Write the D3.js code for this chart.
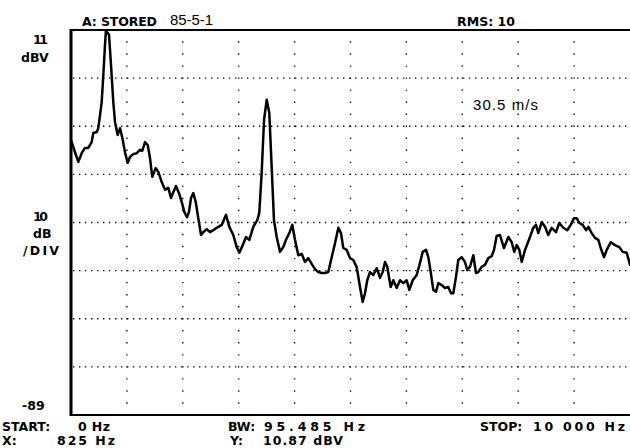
<!DOCTYPE html>
<html>
<head>
<meta charset="utf-8">
<script src="https://cdn.jsdelivr.net/npm/d3@7/dist/d3.min.js"></script>
<style>
  html, body { margin: 0; padding: 0; background: #fff; }
  svg { display: block; }
  .hp { font-family: "DejaVu Sans", sans-serif; font-weight: bold; font-size: 12.5px; fill: #000; }
  .note { font-family: "Liberation Sans", Arial, sans-serif; font-size: 15px; fill: #000; }
</style>
</head>
<body>
<svg id="chart" width="630" height="448"></svg>
<script>
// Stored spectrum trace: frequency (Hz) and level (dBV)
const freqHz = [0, 72, 131, 191, 250, 309, 370, 399, 460, 488, 519, 549, 578, 608, 625, 680, 716, 757, 787, 835,
  877, 918, 966, 1014, 1055, 1114, 1175, 1234, 1275, 1324, 1372, 1413, 1454, 1515, 1562, 1623, 1682, 1741, 1789, 1830,
  1878, 1932, 1980, 2027, 2075, 2111, 2147, 2188, 2231, 2277, 2326, 2367, 2428, 2487, 2546, 2606, 2696, 2773, 2832, 2903,
  2964, 3011, 3072, 3131, 3190, 3261, 3333, 3368, 3411, 3453, 3501, 3547, 3590, 3631, 3680, 3739, 3798, 3846, 3905, 3959,
  4007, 4066, 4127, 4186, 4245, 4306, 4365, 4424, 4485, 4544, 4603, 4664, 4723, 4782, 4830, 4871, 4932, 4991, 5050, 5111,
  5170, 5218, 5259, 5300, 5349, 5408, 5469, 5528, 5576, 5617, 5658, 5719, 5766, 5826, 5885, 5945, 6005, 6052, 6113, 6184,
  6243, 6292, 6351, 6392, 6435, 6481, 6530, 6571, 6631, 6690, 6749, 6798, 6839, 6887, 6928, 6989, 7048, 7089, 7138, 7197,
  7245, 7286, 7347, 7406, 7465, 7526, 7567, 7615, 7674, 7746, 7823, 7884, 7930, 7973, 8020, 8063, 8122, 8211, 8270, 8318,
  8360, 8420, 8479, 8538, 8599, 8676, 8735, 8807, 8878, 8939, 8998, 9046, 9093, 9154, 9213, 9254, 9315, 9374, 9433, 9476,
  9535, 9584, 9655, 9732, 9808, 9869, 9941, 10000];
const levelDbv = [-11.9, -14.4, -16.4, -14.6, -13.5, -13.5, -12.3, -10.4, -10.2, -9.4, -6.7, -4.0, 1.6, 7.9, 10.87, 10.0, 3.7, -4.0, -8.1, -10.8,
  -9.4, -11.4, -14.4, -16.6, -15.4, -14.8, -14.6, -13.9, -14.1, -12.3, -12.9, -15.6, -19.5, -17.7, -18.5, -20.6, -22.2, -21.8, -23.9, -22.7,
  -21.4, -22.9, -24.7, -26.8, -27.9, -26.8, -23.9, -22.9, -24.7, -28.1, -31.6, -31.0, -30.4, -31.0, -30.6, -30.1, -29.5, -27.4, -29.9, -31.6,
  -34.1, -35.3, -33.7, -32.0, -32.6, -29.9, -28.5, -27.0, -18.7, -7.7, -3.5, -6.2, -17.5, -28.5, -32.0, -35.1, -34.1, -32.6, -31.2, -29.5,
  -32.6, -35.8, -35.5, -37.2, -36.4, -37.6, -38.7, -39.3, -39.5, -39.5, -39.3, -36.2, -33.3, -30.1, -31.2, -34.3, -34.7, -36.4, -36.8, -38.3,
  -42.4, -45.5, -43.7, -41.0, -39.3, -39.9, -38.5, -40.5, -39.3, -37.2, -38.2, -42.4, -41.0, -42.6, -41.0, -41.6, -41.0, -43.0, -41.0, -39.9,
  -37.4, -35.1, -34.7, -36.2, -39.3, -43.0, -43.4, -41.6, -42.0, -42.6, -42.4, -43.7, -43.7, -40.3, -36.8, -36.2, -37.2, -38.9, -38.2, -35.8,
  -39.5, -39.3, -38.2, -37.8, -36.4, -36.0, -34.7, -31.8, -31.6, -34.3, -32.0, -33.1, -35.1, -33.7, -34.7, -37.2, -34.7, -32.0, -30.1, -29.5,
  -31.2, -28.9, -29.9, -31.6, -30.1, -31.0, -29.1, -30.1, -30.6, -29.5, -28.1, -28.1, -29.1, -29.5, -30.6, -29.9, -31.2, -32.2, -32.6, -34.3,
  -36.2, -34.7, -33.1, -33.7, -34.1, -35.1, -35.3, -37.8];

// Display settings: reference level, scale and span
const refLevelDbv = 11;
const dbPerDiv = 10;
const yDivisions = 8;
const startHz = 0;
const stopHz = 10000;
const xDivisions = 10;

// Annotation text
const headerLeft = ["A: STORED", "85-5-1"];
const headerRight = "RMS: 10";
const topLabel = ["11", "dBV"];
const scaleLabel = ["10", "dB", "/DIV"];
const bottomLabel = "-89";
const footerRow1 = [["START:", "0 Hz"], ["BW:", "95.485 Hz"], ["STOP:", "10 000 Hz"]];
const footerRow2 = [["X:", "825 Hz"], ["Y:", "10.87 dBV"]];
const speedNote = "30.5 m/s";

(function draw() {
  const svg = d3.select("#chart");
  const plotL = 71, plotR = 630, plotT = 30, plotB = 415;

  const x = d3.scaleLinear().domain([startHz, stopHz]).range([plotL, plotR]);
  const y = d3.scaleLinear()
    .domain([refLevelDbv - dbPerDiv * yDivisions, refLevelDbv])
    .range([plotB, plotT]);

  const xGrid = d3.range(1, xDivisions).map(i => startHz + i * (stopHz - startHz) / xDivisions);
  const yGrid = d3.range(1, yDivisions).map(i => refLevelDbv - i * dbPerDiv);
  const divH = (plotB - plotT) / yDivisions;

  // dotted graticule
  svg.append("g").selectAll("line").data(yGrid).join("line")
    .attr("x1", plotL + 2).attr("x2", plotR)
    .attr("y1", d => y(d)).attr("y2", d => y(d))
    .attr("stroke", "#111").attr("stroke-width", 1.4)
    .attr("stroke-dasharray", "1.4,4.6");

  svg.append("g").selectAll("line").data(xGrid).join("line")
    .attr("x1", d => x(d)).attr("x2", d => x(d))
    .attr("y1", plotT).attr("y2", plotB)
    .attr("stroke", "#111").attr("stroke-width", 1.4)
    .attr("stroke-dasharray", `1.4,${divH / 4 - 1.4}`)
    .attr("stroke-dashoffset", 0.7);

  // frame
  const frame = svg.append("g").attr("stroke", "#000").attr("fill", "none");
  frame.append("line").attr("x1", plotL).attr("x2", plotL).attr("y1", plotT - 1).attr("y2", plotB + 1).attr("stroke-width", 3);
  frame.append("line").attr("x1", plotL).attr("x2", plotR).attr("y1", plotT).attr("y2", plotT).attr("stroke-width", 1.8);
  frame.append("line").attr("x1", plotL).attr("x2", plotR).attr("y1", plotB).attr("y2", plotB).attr("stroke-width", 2);

  // trace
  const pts = freqHz.map((f, i) => [f, levelDbv[i]]);
  svg.append("path")
    .datum(pts)
    .attr("fill", "none")
    .attr("stroke", "#000")
    .attr("stroke-width", 2.5)
    .attr("stroke-linejoin", "round")
    .attr("stroke-linecap", "round")
    .attr("d", d3.line().x(d => x(d[0])).y(d => y(d[1])));

  // text helper: left edge, baseline, optional run width
  function put(cls, str, x0, yb, w) {
    const t = svg.append("text").attr("class", cls).attr("x", x0).attr("y", yb).text(str);
    if (w) t.attr("textLength", w).attr("lengthAdjust", "spacing");
    return t;
  }

  // header
  put("hp", headerLeft[0], 82, 26, 75);
  put("note", headerLeft[1], 170, 25, 43);
  put("hp", headerRight, 457, 26, 58);

  // left labels
  put("hp", topLabel[0], 33, 44, 15);
  put("hp", topLabel[1], 21, 62);
  put("hp", scaleLabel[0], 33, 221, 15);
  put("hp", scaleLabel[1], 33, 238);
  put("hp", scaleLabel[2], 23, 255, 36);
  put("hp", bottomLabel, 22, 410);

  // footer (label and value runs)
  const row1 = [[2, 78, 32], [228, 264, 101], [480, 533, 92]];
  footerRow1.forEach((it, i) => {
    const p = row1[i];
    put("hp", it[0], p[0], 431);
    put("hp", it[1], p[1], 431, p[2]);
  });
  const row2 = [[2, 57, 58], [230, 263, 80]];
  footerRow2.forEach((it, i) => {
    const p = row2[i];
    put("hp", it[0], p[0], 445);
    put("hp", it[1], p[1], 445, p[2]);
  });

  put("note", speedNote, 473, 110, 65);
})();
</script>
</body>
</html>
